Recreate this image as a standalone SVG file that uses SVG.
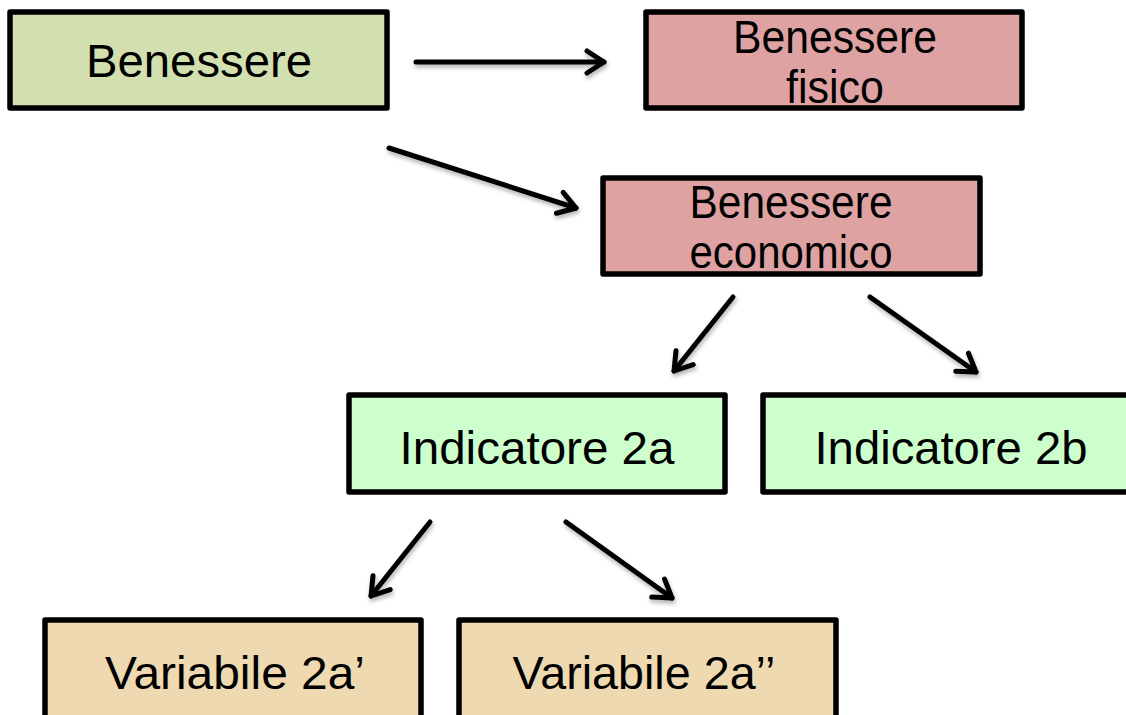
<svg xmlns="http://www.w3.org/2000/svg" width="1126" height="715" viewBox="0 0 1126 715">
<style>
.box{stroke:#000;stroke-width:5.5;stroke-linejoin:round}
.g1{fill:#d2e0b0}
.pk{fill:#dfa2a2}
.gr{fill:#ccffcc}
.tn{fill:#eed9b1}
text{font-family:"Liberation Sans",Arial,sans-serif;font-size:46px;fill:#000;text-anchor:middle}
.arr{stroke:#000;stroke-width:5;fill:none;stroke-linecap:round;marker-end:url(#ah);filter:url(#sh)}
</style>
<defs>
<marker id="ah" viewBox="0 0 24 28" refX="21" refY="14" markerWidth="24" markerHeight="28" markerUnits="userSpaceOnUse" orient="auto">
<path d="M4,3 L21,14 L4,25" fill="none" stroke="#000" stroke-width="5" stroke-linecap="round" stroke-linejoin="round"/>
</marker>
<filter id="sh" filterUnits="userSpaceOnUse" x="0" y="0" width="1126" height="715">
<feDropShadow dx="1" dy="3" stdDeviation="2" flood-color="#000" flood-opacity="0.3"/>
</filter>
</defs>
<g id="connectors">
<path class="arr" d="M416,62 L604,62"/>
<path class="arr" d="M389,148 L576,208"/>
<path class="arr" d="M733,297 L674,371"/>
<path class="arr" d="M870,297 L976,372"/>
<path class="arr" d="M430,522 L371,596"/>
<path class="arr" d="M566,522 L672,598"/>
</g>
<g id="n1">
<rect class="box g1" x="10" y="12" width="377" height="96"/>
<text x="199" y="77" textLength="226" lengthAdjust="spacingAndGlyphs">Benessere</text>
</g>
<g id="n2">
<rect class="box pk" x="646" y="12" width="376" height="96"/>
<text x="835" y="53" textLength="204" lengthAdjust="spacingAndGlyphs">Benessere</text>
<text x="835" y="103" textLength="98" lengthAdjust="spacingAndGlyphs">fisico</text>
</g>
<g id="n3">
<rect class="box pk" x="603" y="178" width="377" height="96"/>
<text x="791" y="218" textLength="203" lengthAdjust="spacingAndGlyphs">Benessere</text>
<text x="791" y="268" textLength="203" lengthAdjust="spacingAndGlyphs">economico</text>
</g>
<g id="n4">
<rect class="box gr" x="349" y="395" width="376" height="97"/>
<text x="537" y="464" textLength="275" lengthAdjust="spacingAndGlyphs">Indicatore 2a</text>
</g>
<g id="n5">
<rect class="box gr" x="763" y="395" width="376" height="97"/>
<text x="951" y="464" textLength="273" lengthAdjust="spacingAndGlyphs">Indicatore 2b</text>
</g>
<g id="n6">
<rect class="box tn" x="45" y="620" width="376" height="110"/>
<text x="235" y="689" textLength="260" lengthAdjust="spacingAndGlyphs">Variabile 2a’</text>
</g>
<g id="n7">
<rect class="box tn" x="459" y="620" width="377" height="110"/>
<text x="644" y="689" textLength="263" lengthAdjust="spacingAndGlyphs">Variabile 2a’’</text>
</g>
</svg>
